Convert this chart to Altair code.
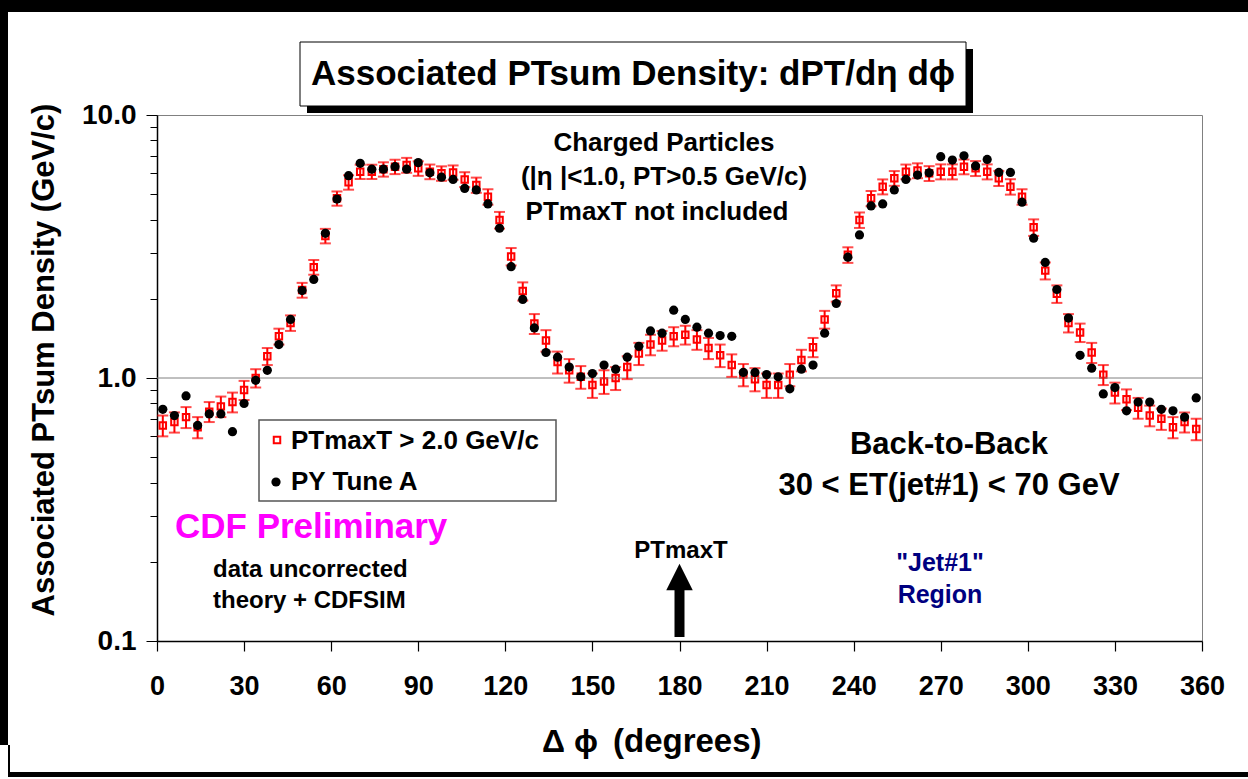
import altair as alt
import pandas as pd

# ---------------- data ----------------
phi = list(range(2, 360, 4))  # 4-degree bin centres

red_vals = [0.66, 0.68, 0.71, 0.65, 0.745, 0.78, 0.81, 0.90, 1.00, 1.21,
            1.44, 1.62, 2.16, 2.64, 3.47, 4.82, 5.55, 6.09, 6.09, 6.22,
            6.36, 6.45, 6.27, 6.09, 6.00, 6.05, 5.69, 5.42, 4.89, 3.99,
            2.90, 2.14, 1.61, 1.39, 1.15, 1.07, 1.01, 0.94, 0.97, 1.00,
            1.10, 1.24, 1.34, 1.39, 1.44, 1.46, 1.40, 1.30, 1.22, 1.12,
            1.03, 0.99, 0.94, 0.94, 1.03, 1.17, 1.31, 1.67, 2.10, 2.94,
            3.99, 4.82, 5.34, 5.75, 6.09, 6.15, 6.00, 6.09, 6.09, 6.36,
            6.27, 6.09, 5.75, 5.34, 4.89, 3.74, 2.56, 2.09, 1.62, 1.49,
            1.25, 1.03, 0.88, 0.83, 0.77, 0.72, 0.70, 0.65, 0.68, 0.64]

red_err = [0.06, 0.06, 0.065, 0.06, 0.065, 0.07, 0.07, 0.075, 0.08, 0.09,
           0.10, 0.11, 0.14, 0.17, 0.22, 0.30, 0.35, 0.38, 0.38, 0.39,
           0.40, 0.42, 0.40, 0.39, 0.38, 0.38, 0.37, 0.36, 0.33, 0.29,
           0.22, 0.17, 0.14, 0.13, 0.11, 0.11, 0.10, 0.10, 0.10, 0.10,
           0.11, 0.12, 0.12, 0.12, 0.12, 0.12, 0.12, 0.12, 0.12, 0.11,
           0.10, 0.10, 0.10, 0.10, 0.10, 0.11, 0.11, 0.13, 0.15, 0.20,
           0.27, 0.32, 0.35, 0.37, 0.39, 0.40, 0.39, 0.40, 0.40, 0.41,
           0.41, 0.40, 0.38, 0.36, 0.33, 0.27, 0.19, 0.16, 0.13, 0.12,
           0.11, 0.09, 0.08, 0.075, 0.07, 0.065, 0.065, 0.06, 0.06, 0.06]

py_vals = [0.76, 0.72, 0.855, 0.66, 0.73, 0.73, 0.625, 0.80, 0.98, 1.07,
           1.34, 1.67, 2.15, 2.37, 3.55, 4.79, 5.88, 6.55, 6.22, 6.22,
           6.36, 6.22, 6.59, 6.03, 5.80, 5.69, 5.26, 5.19, 4.59, 3.71,
           2.65, 1.99, 1.55, 1.25, 1.20, 1.10, 1.01, 1.04, 1.12, 1.08,
           1.20, 1.32, 1.51, 1.48, 1.81, 1.67, 1.56, 1.48, 1.45, 1.44,
           1.05, 1.05, 1.03, 1.01, 0.91, 1.08, 1.12, 1.48, 1.92, 2.88,
           3.50, 4.51, 4.59, 5.19, 5.69, 5.91, 6.03, 6.94, 6.74, 7.00,
           6.40, 6.78, 6.05, 6.05, 4.66, 3.40, 2.75, 2.17, 1.69, 1.22,
           1.09, 0.87, 0.92, 0.75, 0.81, 0.81, 0.76, 0.75, 0.71, 0.84]

x_ticks = [0, 30, 60, 90, 120, 150, 180, 210, 240, 270, 300, 330, 360]
y_ticks = [0.1, 0.2, 0.3, 0.4, 0.5, 0.6, 0.7, 0.8, 0.9,
           1, 2, 3, 4, 5, 6, 7, 8, 9, 10]

df = pd.DataFrame({"phi": phi, "red": red_vals, "err": red_err, "py": py_vals})
df["lo"] = df["red"] - df["err"]
df["hi"] = df["red"] + df["err"]

# ---------------- layout ----------------
PW, PH = 1248, 779
X0, Y0 = 157, 115          # plot-area origin on the page
W, H = 1045, 526           # plot-area size
FONT = "Liberation Sans"

xscale = alt.Scale(domain=[0, 360], nice=False, zero=False)
yscale = alt.Scale(type="log", domain=[0.1, 10], nice=False)

xaxis = alt.Axis(values=x_ticks, title=None, grid=False,
                 labelFont=FONT, labelFontSize=27, labelFontWeight="bold",
                 labelColor="black", labelPadding=22, labelFlush=False,
                 tickSize=10, tickColor="black", tickWidth=1.2,
                 domainColor="black", domainWidth=1.5)
major_test = "datum.value == 10 || datum.value == 1 || datum.value == 0.1"
yaxis = alt.Axis(values=y_ticks, title=None, grid=False,
                 labelExpr="datum.value == 10 ? '10.0' : datum.value == 1 ? '1.0' : datum.value == 0.1 ? '0.1' : ''",
                 labelFont=FONT, labelFontSize=28, labelFontWeight="bold",
                 labelColor="black", labelPadding=10, labelFlush=False,
                 tickSize={"condition": {"test": major_test, "value": 11}, "value": 7},
                 tickColor="black", tickWidth=1,
                 domainColor="black", domainWidth=1.5)


def X(f):
    return alt.X(f, type="quantitative", scale=xscale, axis=xaxis)


def Y(f):
    return alt.Y(f, type="quantitative", scale=yscale, axis=yaxis)


one = pd.DataFrame({"k": [0]})


def px(v):
    return alt.value(v - X0)


def py(v):
    return alt.value(v - Y0)


def rect(x1, y1, x2, y2, fill, stroke=None, sw=0):
    kw = dict(fill=fill)
    if stroke:
        kw.update(stroke=stroke, strokeWidth=sw)
    return alt.Chart(one).mark_rect(**kw).encode(
        x=px(x1), x2=px(x2), y=py(y1), y2=py(y2))


def txt(s, x, y, size, color="black", align="center", angle=0, font=FONT):
    return alt.Chart(one).mark_text(
        text=s, font=font, fontSize=size, fontWeight="bold", color=color,
        align=align, baseline="middle", angle=angle).encode(x=px(x), y=py(y))


# ---------------- data layers (first, so they own the axes) ----------------
grid = alt.Chart(pd.DataFrame({"g": [1.0]})).mark_rule(
    color="#808080", strokeWidth=1).encode(y=Y("g"))

bars = alt.Chart(df).mark_rule(color="red", strokeWidth=2).encode(
    x=X("phi"), y=Y("lo"), y2="hi")
cap_lo = alt.Chart(df).mark_tick(orient="horizontal", color="red", size=11,
                                 thickness=2).encode(x=X("phi"), y=Y("lo"))
cap_hi = alt.Chart(df).mark_tick(orient="horizontal", color="red", size=11,
                                 thickness=2).encode(x=X("phi"), y=Y("hi"))

squares = alt.Chart(df).mark_square(fill="white", stroke="red", strokeWidth=2,
                                    size=42, opacity=1).encode(
    x=X("phi"), y=Y("red"))

dots = alt.Chart(df).mark_circle(color="black", size=85, opacity=1).encode(
    x=X("phi"), y=Y("py"))

# ---------------- frame & title box ----------------
frame = [
    rect(0, 0, PW, 12, "black"),
    rect(0, 0, 8, 745, "black"),
    rect(8, 772, PW, 777, "black"),
    rect(8, 745, 10, 777, "black"),
]
title_box = [
    rect(307, 49, 973, 113, "black"),
    rect(300, 42, 966, 106, "white", "black", 1),
    txt("Associated PTsum Density: dPT/dη dϕ", 633, 74, 35),
]

# ---------------- legend ----------------
legend = [
    rect(259, 420, 556, 501, "white", "#555555", 1.5),
    alt.Chart(one).mark_square(fill="white", stroke="red", strokeWidth=2,
                               size=42, opacity=1).encode(x=px(277), y=py(440)),
    alt.Chart(one).mark_circle(color="black", size=85, opacity=1).encode(
        x=px(276), y=py(482)),
    txt("PTmaxT > 2.0 GeV/c", 291, 441, 26, align="left"),
    txt("PY Tune A", 291, 482, 26, align="left"),
]

# ---------------- annotations ----------------
notes = [
    txt("Charged Particles", 664, 143, 26),
    txt("(|η |<1.0, PT>0.5 GeV/c)", 664, 177, 26),
    txt("PTmaxT not included", 657, 212, 26),
    txt("CDF Preliminary", 175, 527, 35, color="#FF00FF", align="left"),
    txt("data uncorrected", 213, 570, 24, align="left"),
    txt("theory + CDFSIM", 213, 601, 24, align="left"),
    txt("Back-to-Back", 949, 445, 31),
    txt("30 < ET(jet#1) < 70 GeV", 949, 486, 31),
    txt("PTmaxT", 681, 551, 24),
    txt('"Jet#1"', 940, 563, 25, color="#000080"),
    txt("Region", 940, 595, 25, color="#000080"),
    txt("Associated PTsum Density (GeV/c)", 45, 360, 31, angle=270),
    txt("Δ ϕ", 570, 742, 32),
    txt("(degrees)", 613, 742, 33, align="left"),
]

arrow_df = pd.DataFrame({"a": [180]})
arrow = [
    alt.Chart(arrow_df).mark_rule(color="black", strokeWidth=10).encode(
        x=X("a"), y=py(637), y2=py(586)),
    alt.Chart(arrow_df).mark_point(shape="M -1 1 L 0 -1 L 1 1 Z", filled=True,
                                   color="black", size=700, opacity=1).encode(
        x=X("a"), y=py(577)),
]

chart = alt.layer(
    squares, grid, bars, cap_lo, cap_hi, dots,
    *frame, *title_box, *legend, *notes, *arrow
).properties(
    width=W, height=H,
    padding={"left": X0, "top": Y0, "right": PW - X0 - W, "bottom": PH - Y0 - H},
    autosize=alt.AutoSizeParams(type="none"),
    background="white",
).configure_view(stroke="#808080", strokeWidth=1)

chart.save("out.html", embed_options={"renderer": "svg", "actions": False})
